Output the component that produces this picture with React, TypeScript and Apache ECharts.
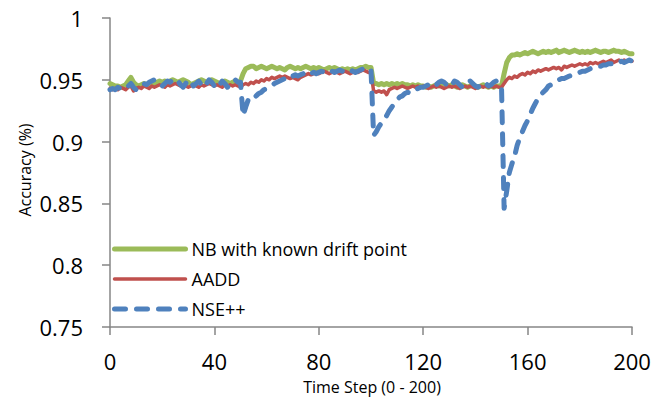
import React, { useEffect, useRef } from "react";
import * as echarts from "echarts";

const steps: number[] = Array.from({ length: 201 }, (_, i) => i);

const nbKnownDrift: number[] = [
  0.947, 0.946, 0.945, 0.945, 0.944, 0.945, 0.946, 0.949, 0.952, 0.948,
  0.946, 0.945, 0.946, 0.947, 0.946, 0.947, 0.948, 0.947, 0.948, 0.949,
  0.948, 0.949, 0.948, 0.949, 0.950, 0.949, 0.948, 0.949, 0.950, 0.949,
  0.948, 0.946, 0.947, 0.948, 0.949, 0.950, 0.949, 0.948, 0.949, 0.950,
  0.949, 0.948, 0.947, 0.948, 0.949, 0.948, 0.947, 0.948, 0.949, 0.948,
  0.949, 0.955, 0.959, 0.960, 0.961, 0.961, 0.959, 0.960, 0.961, 0.960,
  0.959, 0.960, 0.961, 0.960, 0.959, 0.960, 0.959, 0.958, 0.960, 0.961,
  0.960, 0.959, 0.960, 0.959, 0.960, 0.961, 0.960, 0.959, 0.960, 0.959,
  0.960, 0.959, 0.958, 0.959, 0.960, 0.959, 0.960, 0.959, 0.958, 0.959,
  0.958, 0.959, 0.958, 0.959, 0.958, 0.959, 0.960, 0.960, 0.961, 0.960,
  0.960, 0.947, 0.947, 0.946, 0.947, 0.946, 0.947, 0.946, 0.947, 0.946,
  0.947, 0.946, 0.947, 0.946, 0.946, 0.945, 0.946, 0.945, 0.946, 0.945,
  0.945, 0.944, 0.945, 0.944, 0.945, 0.946, 0.945, 0.946, 0.947, 0.946,
  0.945, 0.946, 0.945, 0.944, 0.945, 0.946, 0.945, 0.944, 0.945, 0.946,
  0.945, 0.944, 0.945, 0.946, 0.945, 0.944, 0.945, 0.944, 0.945, 0.945,
  0.945, 0.955, 0.964, 0.968, 0.970, 0.970, 0.971, 0.970, 0.971, 0.972,
  0.971, 0.972, 0.973, 0.972, 0.971, 0.972, 0.973, 0.972, 0.973, 0.972,
  0.973, 0.974, 0.972, 0.973, 0.974, 0.973, 0.972, 0.973, 0.974, 0.973,
  0.972, 0.973, 0.972, 0.973, 0.972, 0.973, 0.974, 0.973, 0.972, 0.973,
  0.973, 0.972, 0.973, 0.974, 0.973, 0.973, 0.972, 0.973, 0.972, 0.971,
  0.971,
];

const aadd: number[] = [
  0.943, 0.942, 0.943, 0.942, 0.944, 0.943, 0.942, 0.944, 0.945, 0.941,
  0.943, 0.944, 0.943, 0.945, 0.944, 0.943, 0.945, 0.944, 0.945, 0.946,
  0.945, 0.944, 0.946, 0.945, 0.946, 0.947, 0.946, 0.945, 0.946, 0.945,
  0.944, 0.945, 0.946, 0.945, 0.944, 0.946, 0.945, 0.946, 0.947, 0.946,
  0.945, 0.946, 0.945, 0.944, 0.946, 0.945, 0.946, 0.945, 0.946, 0.945,
  0.944, 0.946, 0.947, 0.946, 0.948, 0.947, 0.949, 0.948, 0.950, 0.949,
  0.951, 0.950, 0.952, 0.951, 0.952, 0.953, 0.952, 0.953, 0.952, 0.951,
  0.952, 0.951, 0.950, 0.952, 0.953, 0.954, 0.955, 0.954, 0.955, 0.956,
  0.955, 0.956, 0.957, 0.956, 0.955, 0.956, 0.957, 0.956, 0.955, 0.956,
  0.957, 0.956, 0.955, 0.956, 0.957, 0.956, 0.957, 0.958, 0.957, 0.956,
  0.956, 0.941, 0.940, 0.941, 0.940, 0.941, 0.938, 0.942, 0.943, 0.944,
  0.943, 0.944, 0.945, 0.944, 0.943, 0.944, 0.945, 0.944, 0.945, 0.944,
  0.945, 0.944, 0.943, 0.944, 0.945, 0.944, 0.945, 0.944, 0.943, 0.944,
  0.945, 0.944, 0.945, 0.944, 0.943, 0.944, 0.945, 0.944, 0.945, 0.944,
  0.943, 0.944, 0.945, 0.944, 0.945, 0.944, 0.945, 0.944, 0.945, 0.944,
  0.944, 0.947, 0.950, 0.952, 0.951, 0.953, 0.952, 0.954, 0.955, 0.954,
  0.956, 0.955, 0.957, 0.956, 0.958, 0.957, 0.958, 0.959, 0.958, 0.959,
  0.960, 0.959, 0.960, 0.958, 0.961, 0.960, 0.961, 0.962, 0.961, 0.962,
  0.963, 0.962, 0.963, 0.962, 0.964, 0.963, 0.964, 0.963, 0.964, 0.965,
  0.964, 0.965, 0.966, 0.964, 0.965, 0.966, 0.965, 0.966, 0.965, 0.966,
  0.965,
];

const nsePlusPlus: number[] = [
  0.942, 0.943, 0.942, 0.944, 0.943, 0.942, 0.943, 0.945, 0.947, 0.944,
  0.942, 0.944, 0.946, 0.947, 0.946, 0.948, 0.949, 0.950, 0.948, 0.946,
  0.945, 0.947, 0.949, 0.948, 0.950, 0.951, 0.949, 0.946, 0.944, 0.947,
  0.950, 0.948, 0.945, 0.947, 0.949, 0.946, 0.944, 0.947, 0.950, 0.948,
  0.945, 0.943, 0.946, 0.949, 0.947, 0.944, 0.946, 0.949, 0.950, 0.948,
  0.948, 0.921, 0.928, 0.934, 0.936, 0.935, 0.937, 0.939, 0.940, 0.942,
  0.943, 0.944, 0.945, 0.947, 0.948, 0.949, 0.950, 0.951, 0.952, 0.951,
  0.953, 0.954, 0.953, 0.954, 0.955, 0.954, 0.956, 0.955, 0.956, 0.955,
  0.956, 0.957, 0.956, 0.957, 0.958, 0.957, 0.956, 0.957, 0.958, 0.957,
  0.956, 0.957, 0.958, 0.957, 0.956, 0.957, 0.958, 0.959, 0.960, 0.959,
  0.958, 0.905, 0.908, 0.912, 0.915, 0.918, 0.921, 0.925, 0.928, 0.931,
  0.934, 0.936, 0.937, 0.939, 0.940, 0.939, 0.941, 0.942, 0.943, 0.944,
  0.944, 0.945, 0.946, 0.945, 0.944, 0.946, 0.948, 0.949, 0.948, 0.946,
  0.944, 0.946, 0.949, 0.948, 0.946, 0.944, 0.946, 0.948, 0.949, 0.947,
  0.945, 0.944, 0.946, 0.948, 0.947, 0.945, 0.946, 0.948, 0.949, 0.947,
  0.945, 0.846, 0.860, 0.875, 0.882, 0.888, 0.897, 0.903, 0.908, 0.913,
  0.917, 0.922, 0.927, 0.931, 0.935, 0.938, 0.940, 0.942, 0.945, 0.946,
  0.947, 0.948, 0.950, 0.951, 0.951, 0.952, 0.953, 0.954, 0.955, 0.956,
  0.956, 0.957, 0.957, 0.958, 0.959, 0.960, 0.960, 0.961, 0.961, 0.962,
  0.962, 0.963, 0.963, 0.964, 0.963, 0.964, 0.965, 0.964, 0.965, 0.966,
  0.965,
];

const seriesNames: string[] = ["NB with known drift point", "AADD", "NSE++"];
const xTitle = "Time Step (0 - 200)";
const yTitle = "Accuracy (%)";

const FONT = "'Open Sans', 'Noto Sans', sans-serif";
const AXIS_COLOR = "#868686";

export default function App() {
  const ref = useRef<HTMLDivElement>(null);

  useEffect(() => {
    if (!ref.current) return;
    document.body.style.margin = "0";
    const chart = echarts.init(ref.current, undefined, { renderer: "svg" });
    const pair = (arr: number[]) => steps.map((s, i) => [s, arr[i]]);
    chart.setOption({
      animation: false,
      backgroundColor: "#ffffff",
      textStyle: { fontFamily: FONT },
      grid: { left: 110, top: 18, width: 522, height: 309, containLabel: false },
      legend: {
        orient: "vertical",
        left: 112,
        top: 240,
        padding: 0,
        itemWidth: 71,
        itemHeight: 18,
        itemGap: 12,
        itemStyle: { opacity: 0 },
        lineStyle: { width: "inherit", type: "inherit", cap: "round" },
        textStyle: { fontFamily: FONT, fontSize: 18, color: "#000000", padding: [0, 0, 0, 1] },
        data: seriesNames,
      },
      xAxis: {
        type: "value",
        min: 0,
        max: 200,
        interval: 40,
        axisLine: { lineStyle: { color: AXIS_COLOR, width: 1.5 } },
        axisTick: { show: true, length: 8, lineStyle: { color: AXIS_COLOR, width: 1.5 } },
        axisLabel: { fontFamily: FONT, fontSize: 22, color: "#000000", margin: 23 },
        splitLine: { show: false },
      },
      yAxis: {
        type: "value",
        min: 0.75,
        max: 1,
        interval: 0.05,
        axisLine: { show: true, lineStyle: { color: AXIS_COLOR, width: 1.5 } },
        axisTick: { show: true, length: 8, lineStyle: { color: AXIS_COLOR, width: 1.5 } },
        axisLabel: {
          fontFamily: FONT,
          fontSize: 22,
          color: "#000000",
          margin: 27,
          formatter: (v: number) => String(parseFloat(v.toFixed(2))),
        },
        splitLine: { show: false },
      },
      graphic: [
        {
          type: "text",
          x: 372,
          y: 387,
          style: {
            text: xTitle,
            fontFamily: FONT,
            fontSize: 16,
            fill: "#000000",
            align: "center",
            verticalAlign: "middle",
          },
        },
        {
          type: "text",
          x: 25,
          y: 170,
          rotation: Math.PI / 2,
          style: {
            text: yTitle,
            fontFamily: FONT,
            fontSize: 16,
            fill: "#000000",
            align: "center",
            verticalAlign: "middle",
          },
        },
      ],
      series: [
        {
          name: seriesNames[0],
          type: "line",
          data: pair(nbKnownDrift),
          showSymbol: false,
          symbol: "none",
          lineStyle: { color: "#9BBB59", width: 5, cap: "round", join: "round" },
          itemStyle: { color: "#9BBB59" },
          z: 2,
        },
        {
          name: seriesNames[1],
          type: "line",
          data: pair(aadd),
          showSymbol: false,
          symbol: "none",
          lineStyle: { color: "#C0504D", width: 3.5, cap: "round", join: "round" },
          itemStyle: { color: "#C0504D" },
          z: 3,
        },
        {
          name: seriesNames[2],
          type: "line",
          data: pair(nsePlusPlus),
          showSymbol: false,
          symbol: "none",
          lineStyle: { color: "#4F81BD", width: 5, type: [11, 11], cap: "round", join: "round" },
          itemStyle: { color: "#4F81BD" },
          z: 4,
        },
      ],
    });
    return () => chart.dispose();
  }, []);

  return <div ref={ref} style={{ width: 654, height: 401 }} />;
}
